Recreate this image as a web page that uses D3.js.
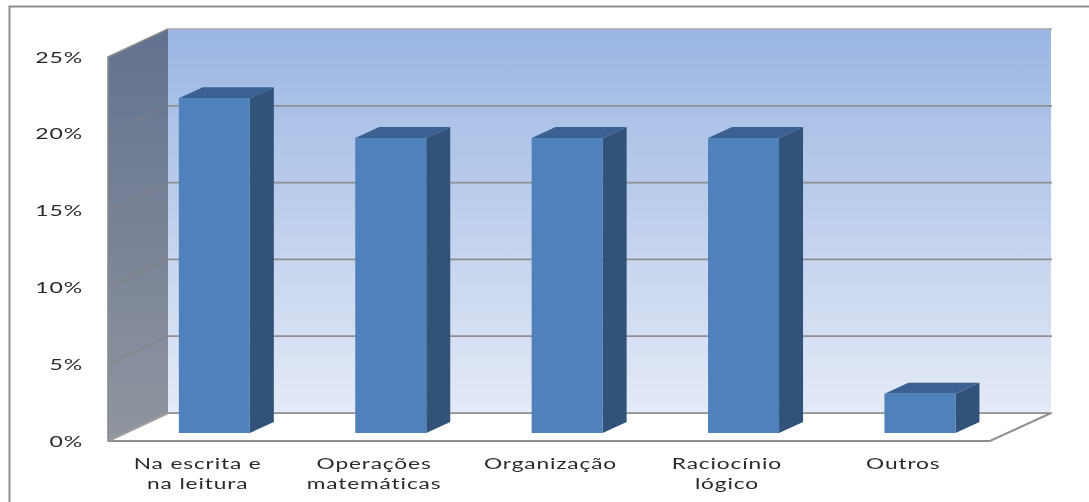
<!DOCTYPE html>
<html><head><meta charset="utf-8">
<script src="https://cdn.jsdelivr.net/npm/d3@7"></script>
<style>html,body{margin:0;padding:0;background:#fff;overflow:hidden}
text{font-family:Lato,sans-serif;fill:#2b2b2b}</style></head>
<body><svg id="c" width="1089" height="502"></svg>
<script>
const categories=["Na escrita e|na leitura","Operações|matemáticas","Organização","Raciocínio|lógico","Outros"];
const values=[21.8,19.2,19.2,19.2,2.55];
const yTicks=[0,5,10,15,20,25];
const W=1089,H=502;
const svg=d3.select("#c");
const defs=svg.append("defs");
function grad(id,a,b){const g=defs.append("linearGradient").attr("id",id).attr("x1",0).attr("x2",0).attr("y1",0).attr("y2",1);
 g.append("stop").attr("offset",0).attr("stop-color",a);g.append("stop").attr("offset",1).attr("stop-color",b);}
grad("back","#9bb6e3","#e4eaf6");grad("side","#62728f","#90959f");
defs.append("filter").attr("id","soft").attr("x",0).attr("y",0).attr("width",1).attr("height",1)
 .append("feGaussianBlur").attr("stdDeviation",0.45);
const root=svg.append("g").attr("filter","url(#soft)");
root.append("rect").attr("width",W).attr("height",H).attr("fill","#fff");
const x=d3.scaleBand().domain(categories).range([108,990]);
const y=d3.scaleLinear().domain([0,25]).range([441,57]);
const dx=60,dy=-28;
const grey="#8f8f8f";
// outer frame
root.append("path").attr("d",`M9.5,${H}V6.5H${W}`).attr("fill","none").attr("stroke",grey).attr("stroke-width",2);
const x0=x.range()[0],x1=x.range()[1];
const poly=(pts)=>"M"+pts.map(p=>p.join(",")).join("L")+"Z";
// floor
root.append("path").attr("d",poly([[x0,y(0)],[x1,y(0)],[x1+dx+1,y(0)+dy],[x0+dx,y(0)+dy]])).attr("fill","#fff").attr("stroke",grey).attr("stroke-width",2);
// side wall
root.append("path").attr("d",poly([[x0,y(0)],[x0,y(25)],[x0+dx,y(25)+dy],[x0+dx,y(0)+dy]])).attr("fill","url(#side)");
// back wall
root.append("rect").attr("x",x0+dx).attr("y",y(25)+dy).attr("width",x1-x0+1).attr("height",y(0)-y(25)).attr("fill","url(#back)");
// gridlines
yTicks.forEach(t=>{
 root.append("line").attr("x1",x0+dx).attr("x2",x1+dx+2).attr("y1",y(t)+dy).attr("y2",y(t)+dy).attr("stroke",t==25?"#a8a8a8":grey).attr("stroke-width",1.7);
 if(t>0&&t<25)root.append("line").attr("x1",x0).attr("x2",x0+dx).attr("y1",y(t)).attr("y2",y(t)+dy).attr("stroke","#7f7f80").attr("stroke-width",0.9);
});
root.append("path").attr("d",`M${x0},${y(0)}L${x0},${y(25)}L${x0+dx},${y(25)+dy}`).attr("fill","none").attr("stroke","#8a8a8a").attr("stroke-width",1.6);
root.append("path").attr("d",`M${x0},${y(0)}L${x0+dx},${y(0)+dy}`).attr("fill","none").attr("stroke","#a0a0a0").attr("stroke-width",1.6);
root.append("line").attr("x1",x0).attr("x2",x1).attr("y1",y(0)).attr("y2",y(0)).attr("stroke",grey).attr("stroke-width",2);
// bars
const t0=8/28,bw=71,bdx=24,bdy=-11;
const bars=root.selectAll("g.bar").data(categories).join("g").attr("class","bar");
bars.each(function(c,i){
 const g=d3.select(this);
 const L=x(c)+x.bandwidth()/2-bw/2+t0*dx+1,R=L+bw;
 const shift=t0*dy, B=y(0)+shift, T=y(values[i])+shift;
 g.append("path").attr("d",poly([[R,T],[R+bdx,T+bdy],[R+bdx,B+bdy],[R,B]])).attr("fill","#305379");
 g.append("path").attr("d",poly([[L,T],[L+bdx,T+bdy],[R+bdx,T+bdy],[R,T]])).attr("fill","#3a6191");
 g.append("rect").attr("x",L).attr("y",T).attr("width",bw).attr("height",B-T).attr("fill","#4f81bd");
});
// axes
const axY=root.append("g").attr("transform","translate(83,0)").call(d3.axisLeft(y).tickValues(yTicks).tickSize(0).tickPadding(0).tickFormat(d=>d+"%"));
axY.select(".domain").remove();
axY.selectAll("text").attr("font-family",null).attr("font-size",16).attr("letter-spacing",0.6).attr("transform","scale(1.44,1)");
const axX=root.append("g").attr("transform","translate(1.5,441)").call(d3.axisBottom(x).tickSize(0).tickFormat(""));
axX.select(".domain").remove();
axX.selectAll(".tick text").each(function(c){
 const t=d3.select(this).attr("font-family",null).attr("font-size",16).attr("letter-spacing",0.6).attr("transform","scale(1.42,1)").attr("y",0).attr("dy",null);
 c.split("|").forEach((s,i)=>t.append("tspan").attr("x",0).attr("y",28+i*20).text(s));
});
</script></body></html>
